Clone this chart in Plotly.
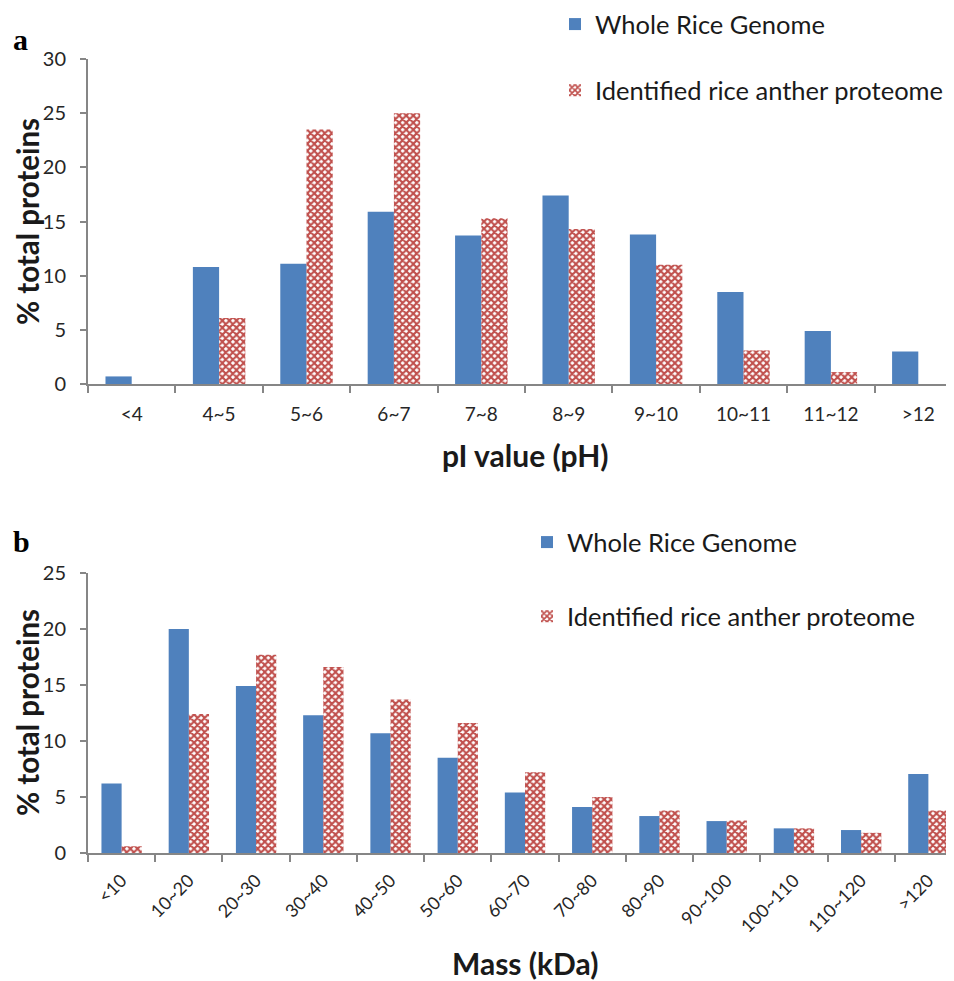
import plotly.graph_objects as go

# Panel a: pI distribution
pi_categories = ["<4", "4~5", "5~6", "6~7", "7~8", "8~9", "9~10", "10~11", "11~12", ">12"]
pi_genome = [0.7, 10.8, 11.1, 15.9, 13.7, 17.4, 13.8, 8.5, 4.9, 3.0]
pi_anther = [0.0, 6.1, 23.5, 25.0, 15.3, 14.3, 11.0, 3.1, 1.1, 0.0]

# Panel b: mass distribution
mass_categories = ["<10", "10~20", "20~30", "30~40", "40~50", "50~60", "60~70",
                   "70~80", "80~90", "90~100", "100~110", "110~120", ">120"]
mass_genome = [6.2, 20.0, 14.9, 12.3, 10.7, 8.5, 5.4, 4.1, 3.3, 2.85, 2.2, 2.05, 7.05]
mass_anther = [0.6, 12.4, 17.7, 16.6, 13.7, 11.6, 7.2, 5.0, 3.8, 2.9, 2.2, 1.8, 3.8]

series_names = ["Whole Rice Genome", "Identified rice anther proteome"]

BLUE = "#4f81bd"
RED = "#c0504d"
AXIS = "#868686"
FONT = "Lato"
TXT = "#1a1a1a"

W, H = 954, 981
OFF = 8  # page offset of the figure inside the browser body

def px_x(p):
    return (p - OFF) / W

def px_y(p):
    return 1 - (p - OFF) / H

red_marker = dict(color="#f1d6d6",
                  pattern=dict(shape="x", fgcolor=RED, size=5, solidity=0.65, fillmode="replace"),
                  line=dict(width=0))

fig = go.Figure()
fig.add_trace(go.Bar(x=pi_categories, y=pi_genome, name=series_names[0],
                     marker=dict(color=BLUE, line=dict(width=0)),
                     xaxis="x", yaxis="y", legend="legend", legendgroup="g1"))
fig.add_trace(go.Bar(x=pi_categories, y=pi_anther, name=series_names[1],
                     marker=red_marker,
                     xaxis="x", yaxis="y", legend="legend", legendgroup="g2"))
fig.add_trace(go.Bar(x=mass_categories, y=mass_genome, name=series_names[0],
                     marker=dict(color=BLUE, line=dict(width=0)),
                     xaxis="x2", yaxis="y2", legend="legend2", legendgroup="g3"))
fig.add_trace(go.Bar(x=mass_categories, y=mass_anther, name=series_names[1],
                     marker=red_marker,
                     xaxis="x2", yaxis="y2", legend="legend2", legendgroup="g4"))

common_x = dict(showline=True, linecolor=AXIS, linewidth=2, ticks="outside", tickson="boundaries",
                ticklen=7, tickcolor=AXIS, tickwidth=2, showgrid=False, zeroline=False,
                automargin=False)
common_y = dict(showline=True, linecolor=AXIS, linewidth=2, ticks="outside", ticklen=6,
                tickcolor=AXIS, tickwidth=2, showgrid=False, zeroline=False,
                tickfont=dict(family=FONT, size=20, color="#262626"),
                ticklabelstandoff=10, automargin=False)

xdom = [px_x(88), 1.0]
fig.update_layout(
    width=W, height=H,
    margin=dict(l=0, r=0, t=0, b=0, autoexpand=False),
    paper_bgcolor="white", plot_bgcolor="white",
    barmode="group", bargap=0.4, bargroupgap=0.0,
    xaxis=dict(domain=xdom, anchor="y", range=[-0.5, 9.5], ticklabelstandoff=12,
               tickfont=dict(family=FONT, size=19, color="#262626"), **common_x),
    yaxis=dict(domain=[px_y(384), px_y(59)], anchor="x", range=[0, 30], dtick=5, **common_y),
    xaxis2=dict(domain=xdom, anchor="y2", range=[-0.5, 12.5], tickangle=-45, ticklabelstandoff=8,
                tickfont=dict(family=FONT, size=18, color="#262626"), **common_x),
    yaxis2=dict(domain=[px_y(853), px_y(573)], anchor="x2", range=[0, 25], dtick=5, **common_y),
    legend=dict(x=547 / W, y=1 + 7 / H, xanchor="left", yanchor="top",
                font=dict(family=FONT, size=25.5, color=TXT),
                traceorder="grouped", tracegroupgap=30, itemwidth=30, bgcolor="rgba(0,0,0,0)"),
    legend2=dict(x=519 / W, y=1 - 511 / H, xanchor="left", yanchor="top",
                 font=dict(family=FONT, size=25.5, color=TXT),
                 traceorder="grouped", tracegroupgap=38, itemwidth=30, bgcolor="rgba(0,0,0,0)"),
    showlegend=True,
)

ann = []
ann.append(dict(text="<b>a</b>", x=px_x(11), y=px_y(39), xref="paper", yref="paper",
                xanchor="left", yanchor="middle", showarrow=False,
                font=dict(family="Liberation Serif", size=30, color="black")))
ann.append(dict(text="<b>b</b>", x=px_x(11), y=px_y(541), xref="paper", yref="paper",
                xanchor="left", yanchor="middle", showarrow=False,
                font=dict(family="Liberation Serif", size=30, color="black")))
ann.append(dict(text="<b>% total proteins</b>", x=px_x(27), y=px_y(222), xref="paper", yref="paper",
                textangle=-90, showarrow=False, xanchor="center", yanchor="middle",
                font=dict(family=FONT, size=29.5, color=TXT)))
ann.append(dict(text="<b>% total proteins</b>", x=px_x(27), y=px_y(713), xref="paper", yref="paper",
                textangle=-90, showarrow=False, xanchor="center", yanchor="middle",
                font=dict(family=FONT, size=29.5, color=TXT)))
ann.append(dict(text="<b>pI value (pH)</b>", x=px_x(525), y=px_y(455), xref="paper", yref="paper",
                showarrow=False, xanchor="center", yanchor="middle",
                font=dict(family=FONT, size=30, color=TXT)))
ann.append(dict(text="<b>Mass (kDa)</b>", x=px_x(525), y=px_y(963), xref="paper", yref="paper",
                showarrow=False, xanchor="center", yanchor="middle",
                font=dict(family=FONT, size=30, color=TXT)))
fig.update_layout(annotations=ann)

fig.write_html("out.html")
